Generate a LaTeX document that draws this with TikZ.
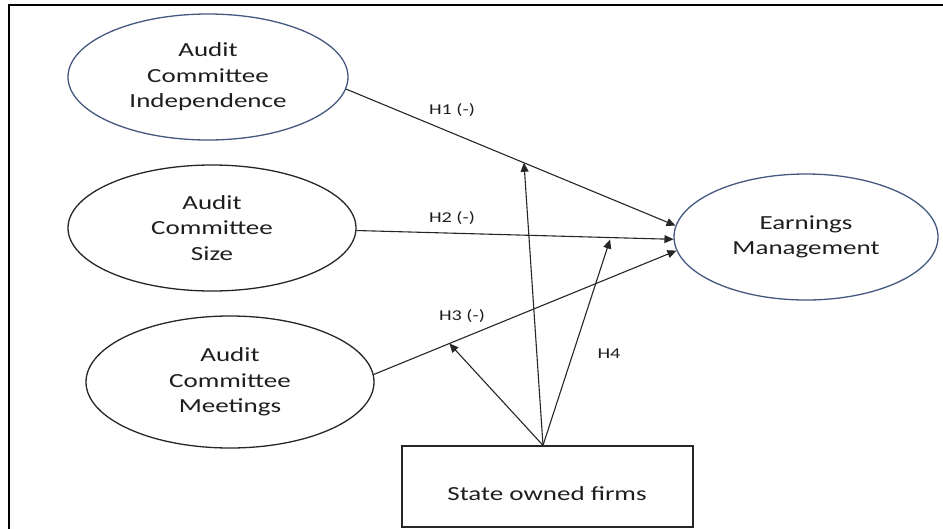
\documentclass[tikz,border=0pt]{standalone}
\usepackage{fontspec}
\setmainfont{Carlito}[FakeStretch=1.35]
\usetikzlibrary{shapes.geometric,arrows.meta}
\definecolor{ebl}{RGB}{68,88,128}
\definecolor{txt}{RGB}{30,30,30}
\tikzset{
  construct/.style={ellipse, draw, line width=1.3pt, inner sep=0pt, align=center,
    text=txt, font=\fontsize{20}{25.5}\selectfont},
  blue construct/.style={construct, draw=ebl},
  black construct/.style={construct, draw=black!85},
  modbox/.style={draw=black!85, line width=1.3pt, minimum width=291pt, minimum height=81pt, inner sep=0pt},
  arr/.style={draw=black!85, line width=1.1pt, -{Triangle[length=9pt,width=8pt]}},
  hlabel/.style={text=txt, font=\fontsize{15}{18}\selectfont, inner sep=0pt},
}
\begin{document}
\begin{tikzpicture}[x=1pt,y=-1pt]
\useasboundingbox (0,0) rectangle (943,528);
\fill[white] (0,0) rectangle (943,528);
% frame (only left and top visible)
\draw[line width=2pt, black] (9,529) -- (9,5) -- (944,5);

\node[blue construct, minimum width=280pt, minimum height=126pt] (e1) at (208,77)
  {Audit\\Committee\\Independence};
\node[black construct, minimum width=288pt, minimum height=126pt] (e2) at (212,228)
  {Audit\\Committee\\Size};
\node[black construct, minimum width=288pt, minimum height=132pt] (e3) at (230,382)
  {Audit\\Committee\\Meetings};
\node[blue construct, minimum width=264pt, minimum height=126pt] (em) at (806,237)
  {Earnings\\Management};
\node[modbox] (box) at (547.5,486.5) {};
\node[text=txt, font=\fontsize{20}{24}\selectfont, inner sep=0pt] (boxtxt) at (547,494) {State owned firms};

\coordinate (apex) at ([xshift=-4.5pt]box.north);

\draw[arr] (e1.-5) -- coordinate[pos=0.54] (m1) (em.175);
\draw[arr] (e2.-1) -- coordinate[pos=0.80] (m2) (em.181);
\draw[arr] (e3.3) -- coordinate[pos=0.25] (m3) (em.186);

\draw[arr] (apex) -- (m1);
\draw[arr] (apex) -- ([yshift=-2pt]m2);
\draw[arr] (apex) -- (m3);

\node[hlabel] (h1) at (452,110) {H1 (-)};
\node[hlabel] (h2) at (452,218) {H2 (-)};
\node[hlabel] (h3) at (462,316) {H3 (-)};
\node[hlabel] (h4) at (609,354) {H4};
\end{tikzpicture}
\end{document}
